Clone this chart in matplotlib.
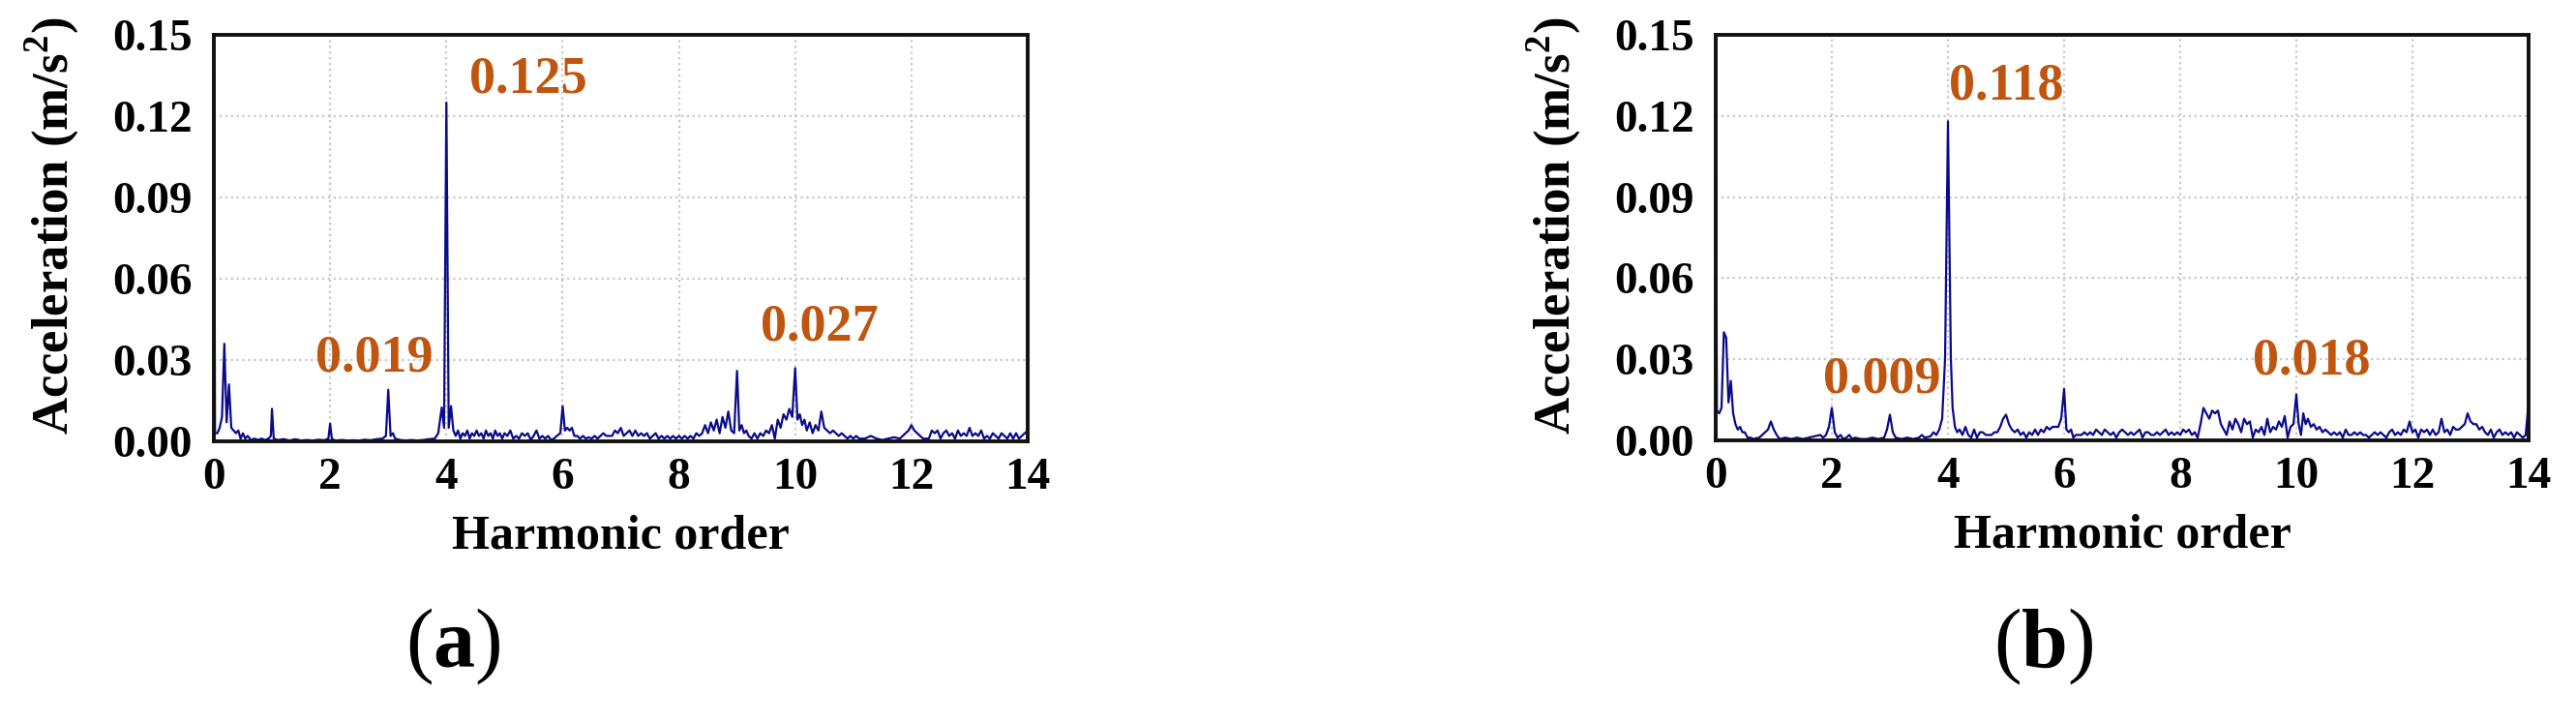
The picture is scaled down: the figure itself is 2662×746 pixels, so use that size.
import matplotlib
matplotlib.use("Agg")
import matplotlib.pyplot as plt
from matplotlib.ticker import FormatStrFormatter

plt.rcParams['font.family'] = 'Liberation Serif'
plt.rcParams['font.weight'] = 'bold'
plt.rcParams['axes.labelweight'] = 'bold'
plt.rcParams['mathtext.fontset'] = 'custom'
plt.rcParams['mathtext.rm'] = 'Liberation Serif'
plt.rcParams['mathtext.bf'] = 'Liberation Serif:bold'

# spectrum (a)
order_a = [0.0, 0.02, 0.06, 0.10, 0.14, 0.18, 0.22, 0.26, 0.30, 0.34, 0.38, 0.42, 0.46, 0.50, 0.54, 0.58,
           0.64, 0.70, 0.76, 0.82, 0.88, 0.94, 0.98, 1.00, 1.03, 1.1, 1.2, 1.3, 1.4, 1.5, 1.6, 1.7, 1.8, 1.9,
           1.97, 2.0, 2.03, 2.1, 2.2, 2.3, 2.4, 2.5, 2.6, 2.7, 2.8, 2.9, 2.96, 3.0, 3.04, 3.08, 3.12, 3.2,
           3.3, 3.4, 3.5, 3.6, 3.7, 3.8, 3.86, 3.92, 3.96, 4.0, 4.04, 4.08, 4.12, 4.16, 4.2, 4.24, 4.28,
           4.32, 4.36, 4.4, 4.44, 4.48, 4.52, 4.56, 4.6, 4.64, 4.68, 4.72, 4.76, 4.8, 4.84, 4.88, 4.92,
           4.96, 5.0, 5.05, 5.1, 5.15, 5.2, 5.25, 5.3, 5.35, 5.4, 5.45, 5.5, 5.55, 5.6, 5.65, 5.7, 5.75,
           5.8, 5.85, 5.9, 5.96, 6.0, 6.04, 6.08, 6.12, 6.16, 6.2, 6.25, 6.3, 6.35, 6.4, 6.45, 6.5, 6.55,
           6.6, 6.65, 6.7, 6.75, 6.8, 6.85, 6.9, 6.95, 7.0, 7.05, 7.1, 7.15, 7.2, 7.25, 7.3, 7.35, 7.4,
           7.45, 7.5, 7.55, 7.6, 7.65, 7.7, 7.75, 7.8, 7.85, 7.9, 7.95, 8.0, 8.05, 8.1, 8.15, 8.2, 8.25,
           8.3, 8.35, 8.4, 8.45, 8.5, 8.55, 8.6, 8.65, 8.7, 8.75, 8.8, 8.85, 8.9, 8.95, 9.0, 9.04, 9.08,
           9.12, 9.16, 9.2, 9.25, 9.3, 9.35, 9.4, 9.45, 9.5, 9.55, 9.6, 9.65, 9.7, 9.75, 9.8, 9.85, 9.9,
           9.95, 10.0, 10.04, 10.08, 10.12, 10.16, 10.2, 10.25, 10.3, 10.35, 10.4, 10.45, 10.5, 10.55,
           10.6, 10.65, 10.7, 10.75, 10.8, 10.85, 10.9, 10.95, 11.0, 11.05, 11.1, 11.2, 11.3, 11.4, 11.5,
           11.6, 11.7, 11.8, 11.85, 11.9, 11.95, 12.0, 12.05, 12.1, 12.15, 12.2, 12.3, 12.35, 12.4, 12.45,
           12.5, 12.55, 12.6, 12.65, 12.7, 12.75, 12.8, 12.85, 12.9, 12.95, 13.0, 13.05, 13.1, 13.15,
           13.2, 13.25, 13.3, 13.35, 13.4, 13.45, 13.5, 13.55, 13.6, 13.65, 13.7, 13.75, 13.8, 13.85,
           13.9, 13.95, 14.0]
acc_a = [0.155, 0.003, 0.003, 0.005, 0.009, 0.036, 0.007, 0.021, 0.005, 0.004, 0.003, 0.004, 0.001, 0.003, 0.001, 0.002,
         0.0005, 0.001, 0.0005, 0.001, 0.0005, 0.001, 0.002, 0.012, 0.001, 0.0005, 0.0008, 0.0003, 0.0008, 0.0003, 0.0005, 0.0003, 0.0006, 0.0004,
         0.001, 0.0065, 0.0008, 0.0003, 0.0005, 0.0003, 0.0004, 0.0003, 0.0006, 0.0004, 0.0008, 0.001, 0.002, 0.019, 0.002, 0.003, 0.001, 0.0005,
         0.0003, 0.0005, 0.0003, 0.0005, 0.0008, 0.001, 0.003, 0.0125, 0.005, 0.125, 0.005, 0.013, 0.004, 0.002, 0.004, 0.001, 0.003,
         0.002, 0.004, 0.001, 0.003, 0.002, 0.004, 0.002, 0.003, 0.001, 0.004, 0.002, 0.003, 0.001, 0.004, 0.002, 0.003,
         0.001, 0.003, 0.002, 0.004, 0.001, 0.002, 0.001, 0.003, 0.002, 0.003, 0.0005, 0.002, 0.004, 0.001, 0.002, 0.001, 0.002,
         0.0005, 0.001, 0.002, 0.003, 0.013, 0.004, 0.005, 0.004, 0.005, 0.002, 0.002, 0.001, 0.002, 0.001, 0.0015, 0.001, 0.002,
         0.001, 0.002, 0.003, 0.002, 0.002, 0.002, 0.004, 0.003, 0.005, 0.002, 0.003, 0.004, 0.002, 0.004, 0.002, 0.003, 0.002,
         0.003, 0.001, 0.002, 0.003, 0.001, 0.002, 0.001, 0.002, 0.001, 0.002, 0.001, 0.002, 0.001, 0.002, 0.001, 0.002, 0.001,
         0.003, 0.002, 0.003, 0.006, 0.003, 0.007, 0.004, 0.008, 0.003, 0.009, 0.005, 0.011, 0.004, 0.003, 0.026, 0.004, 0.006,
         0.003, 0.004, 0.002, 0.001, 0.003, 0.001, 0.003, 0.002, 0.004, 0.003, 0.006, 0.001, 0.008, 0.005, 0.010, 0.008, 0.012,
         0.009, 0.027, 0.008, 0.010, 0.006, 0.008, 0.004, 0.007, 0.003, 0.006, 0.004, 0.011, 0.005, 0.004,
         0.003, 0.004, 0.003, 0.002, 0.003, 0.002, 0.001, 0.002, 0.001, 0.002, 0.001, 0.001, 0.002, 0.001, 0.0005,
         0.001, 0.0015, 0.001, 0.002, 0.003, 0.004, 0.006, 0.004, 0.003, 0.002, 0.001, 0.001, 0.004, 0.003, 0.004,
         0.001, 0.003, 0.004, 0.002, 0.003, 0.001, 0.004, 0.002, 0.003, 0.002, 0.005, 0.002, 0.003, 0.002,
         0.004, 0.001, 0.002, 0.001, 0.003, 0.002, 0.001, 0.003, 0.002, 0.001, 0.003, 0.001, 0.003, 0.001,
         0.002, 0.003, 0.004]

# spectrum (b)
order_b = [0.0, 0.02, 0.06, 0.10, 0.14, 0.18, 0.22, 0.26, 0.30, 0.34, 0.38, 0.42, 0.46, 0.50, 0.55, 0.60,
           0.65, 0.70, 0.75, 0.80, 0.85, 0.90, 0.95, 1.0, 1.05, 1.1, 1.2, 1.3, 1.4, 1.5, 1.6, 1.7, 1.8,
           1.85, 1.9, 1.95, 2.0, 2.05, 2.1, 2.15, 2.2, 2.25, 2.3, 2.35, 2.4, 2.5, 2.6, 2.7, 2.8, 2.9, 2.95,
           3.0, 3.05, 3.1, 3.2, 3.3, 3.4, 3.5, 3.55, 3.6, 3.7, 3.75, 3.8, 3.85, 3.9, 3.95, 4.0, 4.05, 4.08,
           4.12, 4.16, 4.2, 4.25, 4.3, 4.35, 4.4, 4.45, 4.5, 4.55, 4.6, 4.65, 4.7, 4.75, 4.8, 4.85, 4.9,
           4.95, 5.0, 5.05, 5.1, 5.15, 5.2, 5.25, 5.3, 5.35, 5.4, 5.45, 5.5, 5.55, 5.6, 5.65, 5.7, 5.75,
           5.8, 5.85, 5.9, 5.95, 6.0, 6.04, 6.08, 6.12, 6.16, 6.2, 6.3, 6.35, 6.4, 6.45, 6.5, 6.55, 6.6,
           6.65, 6.7, 6.75, 6.8, 6.85, 6.9, 6.95, 7.0, 7.05, 7.1, 7.15, 7.2, 7.25, 7.3, 7.35, 7.4, 7.45,
           7.5, 7.55, 7.6, 7.65, 7.7, 7.75, 7.8, 7.85, 7.9, 7.95, 8.0, 8.05, 8.1, 8.15, 8.2, 8.25, 8.3,
           8.35, 8.4, 8.45, 8.5, 8.55, 8.6, 8.65, 8.7, 8.75, 8.8, 8.85, 8.9, 8.95, 9.0, 9.05, 9.1, 9.15,
           9.2, 9.25, 9.3, 9.35, 9.4, 9.45, 9.5, 9.55, 9.6, 9.65, 9.7, 9.75, 9.8, 9.85, 9.9, 9.95, 10.0,
           10.04, 10.08, 10.12, 10.16, 10.2, 10.25, 10.3, 10.35, 10.4, 10.45, 10.5, 10.55, 10.6, 10.65,
           10.7, 10.75, 10.8, 10.85, 10.9, 10.95, 11.0, 11.05, 11.1, 11.15, 11.2, 11.25, 11.3, 11.35,
           11.4, 11.45, 11.5, 11.55, 11.6, 11.65, 11.7, 11.75, 11.8, 11.85, 11.9, 11.95, 12.0, 12.05,
           12.1, 12.15, 12.2, 12.25, 12.3, 12.35, 12.4, 12.45, 12.5, 12.55, 12.6, 12.65, 12.7, 12.75,
           12.8, 12.85, 12.9, 12.95, 13.0, 13.05, 13.1, 13.15, 13.2, 13.25, 13.3, 13.35, 13.4, 13.45,
           13.5, 13.55, 13.6, 13.65, 13.7, 13.75, 13.8, 13.85, 13.9, 13.95, 14.0]
acc_b = [0.155, 0.011, 0.010, 0.012, 0.040, 0.038, 0.014, 0.022, 0.010, 0.006, 0.004, 0.005, 0.003, 0.003, 0.001, 0.001,
         0.0005, 0.0008, 0.001, 0.002, 0.003, 0.004, 0.007, 0.004, 0.002, 0.0005, 0.001, 0.0005, 0.001, 0.0005, 0.001, 0.0015, 0.002,
         0.001, 0.002, 0.005, 0.012, 0.003, 0.001, 0.002, 0.0005, 0.001, 0.002, 0.0005, 0.001, 0.0005, 0.0005, 0.001, 0.0005, 0.001, 0.004,
         0.0095, 0.003, 0.001, 0.0005, 0.001, 0.0005, 0.001, 0.002, 0.001, 0.0015, 0.003, 0.002, 0.004, 0.008, 0.030, 0.118, 0.030, 0.012,
         0.005, 0.003, 0.004, 0.002, 0.005, 0.002, 0.001, 0.004, 0.001, 0.003, 0.003, 0.002, 0.002, 0.002, 0.003, 0.003, 0.005,
         0.008, 0.0095, 0.006, 0.004, 0.003, 0.004, 0.002, 0.003, 0.001, 0.003, 0.002, 0.004, 0.002, 0.004, 0.003, 0.005, 0.004,
         0.005, 0.005, 0.005, 0.008, 0.019, 0.004, 0.003, 0.004, 0.001, 0.002, 0.002, 0.003, 0.002, 0.003, 0.002, 0.004, 0.003,
         0.002, 0.004, 0.003, 0.002, 0.003, 0.001, 0.003, 0.004, 0.003, 0.002, 0.003, 0.002, 0.003, 0.004, 0.001, 0.003, 0.003,
         0.002, 0.002, 0.003, 0.002, 0.003, 0.004, 0.002, 0.003, 0.002, 0.003, 0.002, 0.004, 0.003, 0.004, 0.002, 0.003, 0.001,
         0.006, 0.012, 0.010, 0.008, 0.011, 0.010, 0.011, 0.006, 0.004, 0.002, 0.007, 0.004, 0.008, 0.006, 0.003, 0.008, 0.006,
         0.007, 0.001, 0.004, 0.003, 0.005, 0.002, 0.008, 0.003, 0.005, 0.004, 0.007, 0.005, 0.009, 0.001, 0.005, 0.006, 0.017,
         0.006, 0.002, 0.010, 0.006, 0.008, 0.005, 0.006, 0.004, 0.005, 0.003, 0.004, 0.003, 0.002, 0.003,
         0.002, 0.003, 0.001, 0.004, 0.002, 0.002, 0.003, 0.002, 0.003, 0.002, 0.002, 0.001, 0.002, 0.003,
         0.002, 0.003, 0.002, 0.001, 0.003, 0.004, 0.002, 0.003, 0.002, 0.004, 0.003, 0.007, 0.003, 0.004,
         0.001, 0.004, 0.003, 0.004, 0.002, 0.004, 0.002, 0.003, 0.008, 0.003, 0.004, 0.002, 0.005, 0.004,
         0.004, 0.005, 0.006, 0.010, 0.007, 0.006, 0.006, 0.004, 0.005, 0.003, 0.002, 0.004, 0.001, 0.003,
         0.004, 0.002, 0.003, 0.002, 0.003, 0.001, 0.003, 0.002, 0.001, 0.002, 0.014]

# labelled peaks: (text, x, y)
notes_a = [('0.125', 5.4, 0.1335), ('0.019', 2.76, 0.0305), ('0.027', 10.42, 0.042)]
notes_b = [('0.118', 5.0, 0.131), ('0.009', 2.87, 0.0225), ('0.018', 10.27, 0.029)]

x_ticks = [0, 2, 4, 6, 8, 10, 12, 14]
y_ticks = [0.00, 0.03, 0.06, 0.09, 0.12, 0.15]

line_col = '#0a0a8c'
note_col = '#c05510'

W, H = 2662, 746
fig = plt.figure(figsize=(W / 100, H / 100), dpi=100)


def draw_panel(ax, order, acc, notes):
    ax.plot(order, acc, color=line_col, lw=1.6)
    ax.set_xlim(0, 14)
    ax.set_ylim(0, 0.15)
    ax.set_xticks(x_ticks)
    ax.set_yticks(y_ticks)
    ax.yaxis.set_major_formatter(FormatStrFormatter('%.2f'))
    ax.grid(True, color='#c8c8c8', linestyle=':', lw=1.6)
    ax.tick_params(axis='both', length=0, labelsize=34)
    ax.tick_params(axis='x', pad=12)
    ax.tick_params(axis='y', pad=16)
    for sp in ax.spines.values():
        sp.set_linewidth(2.8)
        sp.set_color('#111111')
    ax.set_xlabel('Harmonic order', fontsize=36, labelpad=12)
    ax.set_ylabel(r'Acceleration (m/s$^{\mathbf{2}}$)', fontsize=38)
    ax.yaxis.set_label_coords(-0.163, 0.53)
    for txt, x, y in notes:
        ax.text(x, y, txt, color=note_col, fontsize=39, ha='center', va='center')


ax_a = fig.add_axes([221 / W, 1 - 456 / H, 841 / W, 420 / H])
ax_b = fig.add_axes([1773 / W, 1 - 455 / H, 840 / W, 419 / H])
draw_panel(ax_a, order_a, acc_a, notes_a)
draw_panel(ax_b, order_b, acc_b, notes_b)

fig.text(468 / W, 1 - 668 / H, r'($\mathbf{a}$)', fontsize=62, fontweight='normal', ha='center', va='center')
fig.text(2112 / W, 1 - 668 / H, r'($\mathbf{b}$)', fontsize=62, fontweight='normal', ha='center', va='center')

fig.savefig('out.png', dpi=100)
